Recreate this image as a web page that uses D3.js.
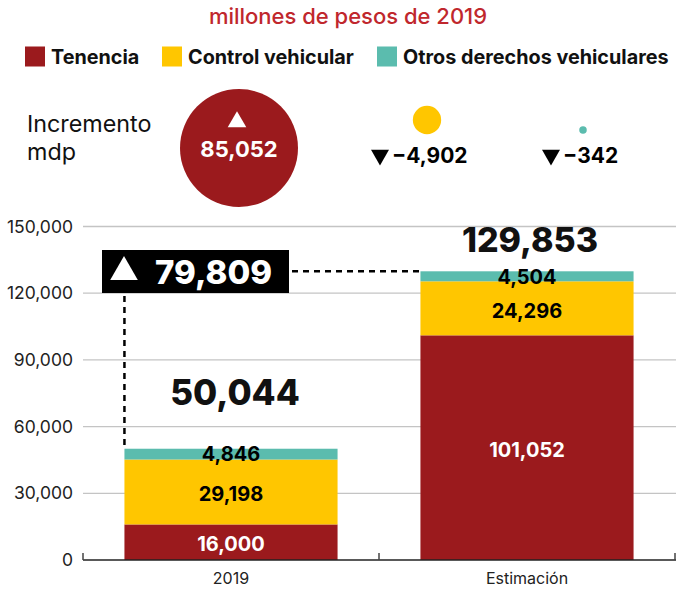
<!DOCTYPE html>
<html><head><meta charset="utf-8">
<script src="https://cdn.jsdelivr.net/npm/d3@7"></script>
<style>
html,body{margin:0;padding:0;background:#fff;}
svg{display:block;font-family:Inter, "Liberation Sans", sans-serif;}
</style></head>
<body><svg id="c" width="676" height="589"></svg>
<script>
const categories = ["2019", "Estimación"];
const seriesNames = ["Tenencia", "Control vehicular", "Otros derechos vehiculares"];
const tenencia = [16000, 101052];
const control = [29198, 24296];
const otros = [4846, 4504];
const totalLabels = [50044, 129853];
const increments = [85052, -4902, -342];
const totalIncrease = 79809;
const yTicks = [0, 30000, 60000, 90000, 120000, 150000];
const colors = ["#9b1a1d", "#ffc600", "#5bbcae"];

const svg = d3.select("#c");
const fmt = d3.format(",");

// title
svg.append("text").attr("x", 348).attr("y", 24).attr("text-anchor", "middle")
  .attr("font-size", 22).attr("font-weight", 500).attr("fill", "#c0272d")
  .text("millones de pesos de 2019");

// legend
const legendX = [25, 162, 377];
seriesNames.forEach((s, i) => {
  svg.append("rect").attr("x", legendX[i]).attr("y", 46.5).attr("width", 20).attr("height", 20).attr("fill", colors[i]);
  svg.append("text").attr("x", legendX[i] + 26).attr("y", 63.5).attr("font-size", 19.8).attr("font-weight", 700)
    .attr("fill", "#111").text(s);
});

// increments
svg.append("text").attr("x", 27).attr("y", 132).attr("font-size", 23.3).attr("fill", "#111").text("Incremento");
svg.append("text").attr("x", 27).attr("y", 160).attr("font-size", 23.3).attr("fill", "#111").text("mdp");

const r = d3.scaleSqrt().domain([0, 85052]).range([0, 59]);
const incCircle = [{x: 239, y: 148}, {x: 427, y: 120}, {x: 583, y: 130}];
increments.forEach((v, i) => {
  svg.append("circle").attr("cx", incCircle[i].x).attr("cy", incCircle[i].y)
    .attr("r", r(Math.abs(v))).attr("fill", colors[i]);
});
// big circle label
svg.append("path").attr("d", d3.symbol(d3.symbolTriangle, 150)()).attr("fill", "#fff")
  .attr("transform", "translate(237,122)");
svg.append("text").attr("x", 239).attr("y", 157).attr("text-anchor", "middle").attr("font-size", 22)
  .attr("font-weight", 700).attr("fill", "#fff").text(fmt(increments[0]));
// small labels
[[372, increments[1]], [543, increments[2]]].forEach(([x, v]) => {
  svg.append("path").attr("d", d3.symbol(d3.symbolTriangle, 140)()).attr("fill", "#000")
    .attr("transform", `translate(${x + 8},155) rotate(180)`);
  svg.append("text").attr("x", x + 20).attr("y", 163).attr("font-size", 21).attr("font-weight", 700)
    .attr("fill", "#000").text(fmt(v));
});

// scales
const y = d3.scaleLinear().domain([0, 150000]).range([560, 226.5]);
const x = d3.scaleBand().domain(categories).range([83, 675]).paddingInner(0.28).paddingOuter(0.14);
const xTicks = d3.scaleBand().domain(categories).range([83, 675]);

// grid
svg.append("g").selectAll("line").data(yTicks.filter(d => d > 0)).join("line")
  .attr("x1", 83).attr("x2", 676).attr("y1", d => y(d)).attr("y2", d => y(d))
  .attr("stroke", "#c4c4c4").attr("stroke-width", 1.3);

// y axis labels
const yAxis = svg.append("g").attr("transform", "translate(73,0)")
  .call(d3.axisLeft(y).tickValues(yTicks).tickFormat(fmt).tickSize(0).tickPadding(0));
yAxis.select(".domain").remove();
yAxis.selectAll("text").attr("font-size", 17.5).attr("fill", "#222").attr("font-family", "Inter, sans-serif");

// stacked bars
const rows = categories.map((c, i) => ({cat: c, t: tenencia[i], c: control[i], o: otros[i]}));
const stack = d3.stack().keys(["t", "c", "o"])(rows);
const g = svg.append("g");
stack.forEach((layer, li) => {
  g.selectAll(null).data(layer).join("rect")
    .attr("x", d => x(d.data.cat)).attr("width", x.bandwidth())
    .attr("y", d => y(d[1])).attr("height", d => y(d[0]) - y(d[1]))
    .attr("fill", colors[li]);
});
stack.forEach((layer, li) => {
  g.selectAll(null).data(layer).join("text")
    .attr("x", d => x(d.data.cat) + x.bandwidth() / 2)
    .attr("y", d => (y(d[0]) + y(d[1])) / 2 + (li === 2 ? 0 : 2))
    .attr("dy", "0.36em").attr("text-anchor", "middle")
    .attr("font-size", 20).attr("font-weight", 700)
    .attr("fill", li === 0 ? "#fff" : "#000")
    .text(d => fmt(d[1] - d[0]));
});

// x axis
const xg = svg.append("g").attr("transform", "translate(0,560)");
xg.append("line").attr("x1", 83).attr("x2", 676).attr("stroke", "#222").attr("stroke-width", 1.5);
const bounds = [83, xTicks(categories[1]), 675];
xg.selectAll(".tk").data(bounds).join("line").attr("x1", d => d).attr("x2", d => d)
  .attr("y1", -7).attr("y2", 0).attr("stroke", "#444").attr("stroke-width", 1.5);
xg.selectAll(".lb").data(categories).join("text")
  .attr("x", d => x(d) + x.bandwidth() / 2).attr("y", 24).attr("text-anchor", "middle")
  .attr("font-size", 16).attr("fill", "#222").text(d => d);

// totals
const totalY = [405, 252];
categories.forEach((c, i) => {
  svg.append("text").attr("x", x(c) + x.bandwidth() / 2 + (i === 0 ? 4 : 3)).attr("y", totalY[i])
    .attr("text-anchor", "middle").attr("font-size", i === 0 ? 35 : 34).attr("font-weight", 800).attr("fill", "#111")
    .text(fmt(totalLabels[i]));
});

// dashed connectors
const x0 = x(categories[0]);
const top2 = y(tenencia[1] + control[1] + otros[1]);
svg.append("line").attr("x1", x0).attr("x2", x0).attr("y1", 296).attr("y2", y(tenencia[0] + control[0] + otros[0]))
  .attr("stroke", "#000").attr("stroke-width", 2.5).attr("stroke-dasharray", "6,5");
svg.append("line").attr("x1", 292).attr("x2", x(categories[1])).attr("y1", top2).attr("y2", top2)
  .attr("stroke", "#000").attr("stroke-width", 2.5).attr("stroke-dasharray", "6,5");

// increase box
svg.append("rect").attr("x", 102).attr("y", 250).attr("width", 187).attr("height", 43).attr("fill", "#000");
svg.append("path").attr("d", d3.symbol(d3.symbolTriangle, 330)()).attr("fill", "#fff")
  .attr("transform", "translate(124,272)");
svg.append("text").attr("x", 155).attr("y", 284).attr("font-size", 33).attr("font-weight", 800)
  .attr("fill", "#fff").text(fmt(totalIncrease));
</script></body></html>
